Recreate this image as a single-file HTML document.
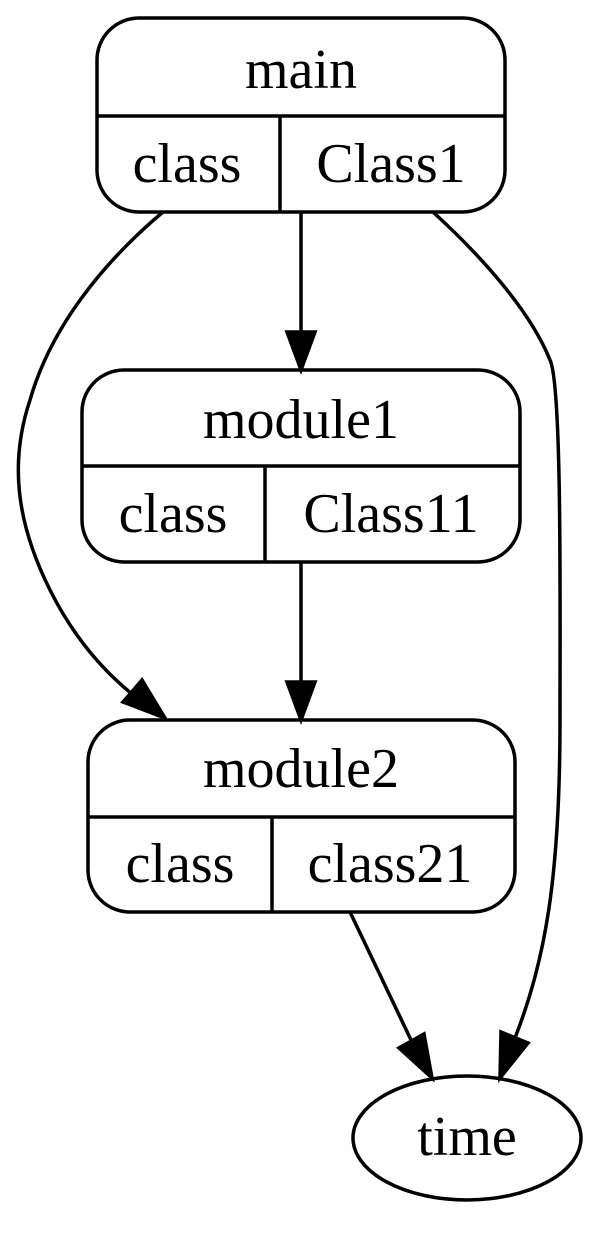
<!DOCTYPE html>
<html><head><meta charset="utf-8"><style>
html,body{margin:0;padding:0;background:#fff;}
svg{display:block;}
text{font-family:"Liberation Serif",serif;font-size:56px;fill:#000;text-anchor:middle;}
</style></head><body>
<svg width="597" height="1233" viewBox="0 0 597 1233" xmlns="http://www.w3.org/2000/svg">
<g fill="none" stroke="#000" stroke-width="3.5">
<rect x="97" y="18" width="408" height="194" rx="42"/>
<line x1="97" y1="116" x2="505" y2="116"/>
<line x1="280" y1="116" x2="280" y2="212"/>
<rect x="82" y="370" width="438" height="192" rx="42"/>
<line x1="82" y1="466" x2="520" y2="466"/>
<line x1="265" y1="466" x2="265" y2="562"/>
<rect x="88" y="720" width="427" height="192" rx="42"/>
<line x1="88" y1="817" x2="515" y2="817"/>
<line x1="272" y1="817" x2="272" y2="912"/>
<ellipse cx="467" cy="1138" rx="114" ry="62"/>
<line x1="301" y1="212" x2="301" y2="332"/>
<line x1="301" y1="562" x2="301" y2="682"/>
<path d="M163,212 C100,265 50,330 30,400 C10,460 15,520 50,590 C75,640 105,672 132,694"/>
<path d="M433,212 C480,255 530,310 550,360 C562,385 560,600 560,720 C560,880 545,960 515,1038"/>
<path d="M350,912 L412,1042"/>
</g>
<g fill="#000" stroke="#000" stroke-width="3.5">
<polygon points="287,332 301,370 315,332"/>
<polygon points="287,682 301,720 315,682"/>
<polygon points="123,702 165,718 142,680"/>
<polygon points="501,1032 500,1078 528,1043"/>
<polygon points="399,1048 432,1078 424,1034"/>
</g>
<text x="301" y="88">main</text>
<text x="187" y="182">class</text>
<text x="391" y="182">Class1</text>
<text x="301" y="438">module1</text>
<text x="173" y="532">class</text>
<text x="391" y="532">Class11</text>
<text x="301" y="787">module2</text>
<text x="180" y="882">class</text>
<text x="390" y="882">class21</text>
<text x="467" y="1155">time</text>
</svg>
</body></html>
